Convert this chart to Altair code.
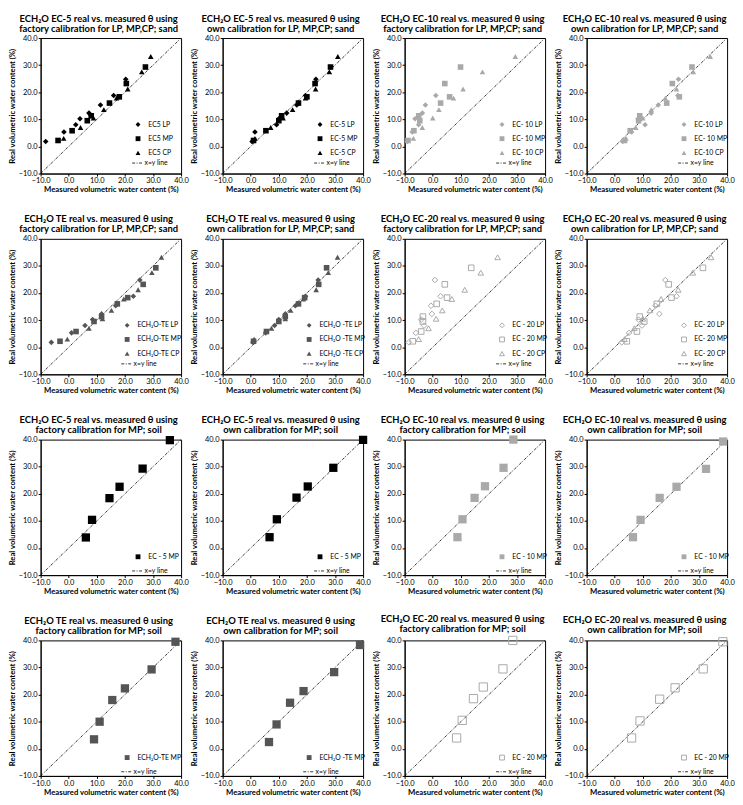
import altair as alt
import pandas as pd

FONT = "Lato"
AX_TICKS = [-10, 0, 10, 20, 30, 40]
LINE_XY = [-10, 40]

# ---- real (reference) water contents, sand ----
SAND_LP_Y = [1.8, 5.3, 8.0, 10.2, 12.3, 15.3, 18.8, 24.8]
SAND_MP_Y = [2.2, 5.8, 9.5, 11.3, 16.0, 18.3, 23.2, 29.3]
SAND_CP_Y = [3.0, 7.0, 10.5, 13.6, 17.8, 21.2, 27.5, 33.2]

# ---- measured water contents, sand ----
EC5_FACT_LP_X = [-8.2, -1.7, 2.5, 4.0, 7.2, 11.3, 16.0, 20.3]
EC5_FACT_MP_X = [-3.8, 1.2, 6.6, 8.0, 14.5, 18.0, 20.5, 27.3]
EC5_FACT_CP_X = [-1.8, 4.2, 8.8, 12.5, 17.0, 21.0, 26.0, 29.2]

EC5_OWN_LP_X = [0.5, 1.5, 9.2, 10.0, 12.8, 16.4, 19.5, 23.2]
EC5_OWN_MP_X = [1.0, 5.4, 10.0, 11.0, 17.0, 20.0, 22.9, 28.4]
EC5_OWN_CP_X = [1.5, 7.1, 11.5, 14.9, 19.5, 23.1, 28.0, 31.0]

EC10_FACT_LP_X = [-9.0, -7.3, -5.0, -6.3, -3.7, -2.6, 1.1, None]
EC10_FACT_MP_X = [-8.8, -6.7, -4.6, -5.0, 2.8, 6.0, 4.3, 9.9]
EC10_FACT_CP_X = [-6.9, -3.7, 0.0, 2.2, 7.4, 10.8, 17.7, 29.4]

EC10_OWN_LP_X = [2.8, 6.0, 10.8, 8.3, 13.0, 15.5, 22.5, 22.7]
EC10_OWN_MP_X = [3.5, 5.5, 8.5, 8.9, 18.5, 23.0, 20.5, 27.5]
EC10_OWN_CP_X = [4.0, 7.5, 10.0, 13.0, 18.0, 22.0, 28.0, 34.0]

TE_FACT_LP_X = [-6.2, 1.0, 5.8, 8.5, 11.7, 16.7, 23.0, 25.3]
TE_FACT_MP_X = [-3.1, 2.6, 9.0, 11.7, 17.3, 21.0, 26.5, 31.0]
TE_FACT_CP_X = [-0.5, 7.2, 12.0, 15.2, 19.6, 24.7, 29.6, 33.0]

TE_OWN_LP_X = [0.8, 5.3, 8.5, 10.0, 12.3, 15.9, 19.5, 24.0]
TE_OWN_MP_X = [1.0, 5.6, 10.0, 12.3, 17.0, 19.2, 24.2, 27.0]
TE_OWN_CP_X = [1.2, 7.4, 12.3, 14.2, 18.7, 23.3, 27.6, 30.9]

EC20_FACT_LP_X = [-8.5, -6.0, -3.1, -4.1, -0.3, -0.6, 2.8, 0.8]
EC20_FACT_MP_X = [-7.1, -4.1, -3.5, -3.5, 1.4, 5.1, 4.3, 13.7]
EC20_FACT_CP_X = [-5.0, -1.5, 1.2, 3.4, 6.8, 11.4, 17.1, 23.1]

EC20_OWN_LP_X = [2.5, 5.1, 9.7, 8.5, 15.9, 14.5, 22.0, 18.0]
EC20_OWN_MP_X = [4.3, 7.9, 10.5, 8.9, 15.0, 20.2, 19.2, 31.4]
EC20_OWN_CP_X = [3.5, 7.0, 10.0, 12.5, 16.5, 22.6, 27.8, 34.3]

# ---- soil, MP only: measured (x) and real (y) ----
EC5_FACT_SOIL_X = [6.1, 8.3, 14.5, 18.1, 26.3, 36.0]
EC5_FACT_SOIL_Y = [3.9, 10.4, 18.4, 22.6, 29.3, 39.8]
EC5_OWN_SOIL_X = [6.7, 9.3, 16.3, 20.3, 29.4, 40.0]
EC5_OWN_SOIL_Y = [4.0, 10.6, 18.6, 22.7, 29.6, 39.9]
EC10_FACT_SOIL_X = [8.8, 10.6, 14.9, 18.6, 25.2, 28.7]
EC10_FACT_SOIL_Y = [4.0, 10.6, 18.5, 22.8, 29.6, 40.0]
EC10_OWN_SOIL_X = [6.5, 9.2, 16.0, 22.0, 32.5, 38.6]
EC10_OWN_SOIL_Y = [4.0, 10.4, 18.5, 22.6, 29.2, 39.3]
TE_FACT_SOIL_X = [9.0, 11.0, 15.5, 20.0, 29.5, 38.0]
TE_FACT_SOIL_Y = [3.5, 10.0, 18.0, 22.3, 29.3, 39.5]
TE_OWN_SOIL_X = [6.5, 9.2, 14.0, 18.8, 29.7, 38.9]
TE_OWN_SOIL_Y = [2.5, 9.0, 17.0, 21.3, 28.3, 38.3]
EC20_FACT_SOIL_X = [8.5, 10.5, 14.5, 18.0, 25.0, 28.5]
EC20_FACT_SOIL_Y = [4.0, 10.5, 18.5, 22.8, 29.5, 40.0]
EC20_OWN_SOIL_X = [6.0, 9.0, 16.0, 21.5, 31.5, 38.5]
EC20_OWN_SOIL_Y = [4.0, 10.3, 18.3, 22.5, 29.5, 39.5]

# ---- titles and legend labels ----
T_EC5 = "ECH\u2082O EC-5 real vs. measured \u03b8 using"
T_EC10 = "ECH\u2082O EC-10 real vs. measured \u03b8 using"
T_TE = "ECH\u2082O TE real vs. measured \u03b8 using"
T_EC20 = "ECH\u2082O EC-20 real vs. measured \u03b8 using"
T_FS = "factory calibration for LP, MP,CP; sand"
T_OS = "own calibration for LP, MP,CP; sand"
T_FM = "factory calibration for MP; soil"
T_OM = "own calibration for MP; soil"

BLACK = "#000000"
DARK = "#555555"
LIGHT = "#a9a9a9"

SAND_Y = [SAND_LP_Y, SAND_MP_Y, SAND_CP_Y]

PANELS = [
    dict(title=[T_EC5, T_FS], labels=["EC5 LP", "EC5 MP", "EC5 CP"],
         xs=[EC5_FACT_LP_X, EC5_FACT_MP_X, EC5_FACT_CP_X], ys=SAND_Y, color=BLACK, filled=True),
    dict(title=[T_EC5, T_OS], labels=["EC-5 LP", "EC-5 MP", "EC-5 CP"],
         xs=[EC5_OWN_LP_X, EC5_OWN_MP_X, EC5_OWN_CP_X], ys=SAND_Y, color=BLACK, filled=True),
    dict(title=[T_EC10, T_FS], labels=["EC- 10 LP", "EC- 10 MP", "EC- 10 CP"],
         xs=[EC10_FACT_LP_X, EC10_FACT_MP_X, EC10_FACT_CP_X], ys=SAND_Y, color=LIGHT, filled=True),
    dict(title=[T_EC10, T_OS], labels=["EC-10 LP", "EC- 10 MP", "EC-10 CP"],
         xs=[EC10_OWN_LP_X, EC10_OWN_MP_X, EC10_OWN_CP_X], ys=SAND_Y, color=LIGHT, filled=True),
    dict(title=[T_TE, T_FS], labels=["ECH\u2082O-TE LP", "ECH\u2082O-TE MP", "ECH\u2082O-TE CP"],
         xs=[TE_FACT_LP_X, TE_FACT_MP_X, TE_FACT_CP_X], ys=SAND_Y, color=DARK, filled=True),
    dict(title=[T_TE, T_OS], labels=["ECH\u2082O -TE LP", "ECH\u2082O -TE MP", "ECH\u2082O -TE CP"],
         xs=[TE_OWN_LP_X, TE_OWN_MP_X, TE_OWN_CP_X], ys=SAND_Y, color=DARK, filled=True),
    dict(title=[T_EC20, T_FS], labels=["EC - 20 LP", "EC - 20 MP", "EC - 20 CP"],
         xs=[EC20_FACT_LP_X, EC20_FACT_MP_X, EC20_FACT_CP_X], ys=SAND_Y, color=LIGHT, filled=False),
    dict(title=[T_EC20, T_OS], labels=["EC- 20 LP", "EC- 20 MP", "EC- 20 CP"],
         xs=[EC20_OWN_LP_X, EC20_OWN_MP_X, EC20_OWN_CP_X], ys=SAND_Y, color=LIGHT, filled=False),
    dict(title=[T_EC5, T_FM], labels=["EC - 5  MP"], xs=[EC5_FACT_SOIL_X], ys=[EC5_FACT_SOIL_Y],
         color=BLACK, filled=True),
    dict(title=[T_EC5, T_OM], labels=["EC - 5  MP"], xs=[EC5_OWN_SOIL_X], ys=[EC5_OWN_SOIL_Y],
         color=BLACK, filled=True),
    dict(title=[T_EC10, T_FM], labels=["EC - 10 MP"], xs=[EC10_FACT_SOIL_X], ys=[EC10_FACT_SOIL_Y],
         color=LIGHT, filled=True),
    dict(title=[T_EC10, T_OM], labels=["EC - 10 MP"], xs=[EC10_OWN_SOIL_X], ys=[EC10_OWN_SOIL_Y],
         color=LIGHT, filled=True),
    dict(title=[T_TE, T_FM], labels=["ECH\u2082O-TE MP"], xs=[TE_FACT_SOIL_X], ys=[TE_FACT_SOIL_Y],
         color=DARK, filled=True),
    dict(title=[T_TE, T_OM], labels=["ECH\u2082O -TE MP"], xs=[TE_OWN_SOIL_X], ys=[TE_OWN_SOIL_Y],
         color=DARK, filled=True),
    dict(title=[T_EC20, T_FM], labels=["EC - 20 MP"], xs=[EC20_FACT_SOIL_X], ys=[EC20_FACT_SOIL_Y],
         color=LIGHT, filled=False),
    dict(title=[T_EC20, T_OM], labels=["EC - 20 MP"], xs=[EC20_OWN_SOIL_X], ys=[EC20_OWN_SOIL_Y],
         color=LIGHT, filled=False),
]

W, H = 142, 137
X_TITLE = "Measured volumetric water content (%)"
Y_TITLE = "Real volumetric water content (%)"


def make_panel(spec):
    rows = []
    for lab, xs, ys in zip(spec["labels"], spec["xs"], spec["ys"]):
        for x, y in zip(xs, ys):
            if x is None:
                continue
            rows.append({"series": lab, "x": x, "y": y})
    df = pd.DataFrame(rows)
    sand = len(spec["labels"]) == 3
    shapes = ["diamond", "square", "triangle-up"] if sand else ["square"]
    size = 32 if sand else 70
    long_lab = "ECH" in spec["labels"][0]
    lx = 84 if long_lab else 95

    sc = alt.Scale(domain=[-10, 40], nice=False, zero=False)
    xenc = alt.X("x:Q", scale=sc, title=X_TITLE,
                 axis=alt.Axis(values=AX_TICKS, format=".1f", labelFlush=False))
    yenc = alt.Y("y:Q", scale=sc, title=Y_TITLE,
                 axis=alt.Axis(values=AX_TICKS, format=".1f", labelFlush=False))

    leg_y = 84 if sand else 115
    n = len(spec["labels"])
    pts = alt.Chart(df).mark_point(
        filled=spec["filled"], color=spec["color"], size=size, opacity=1, strokeWidth=1
    ).encode(
        x=xenc, y=yenc,
        shape=alt.Shape("series:N", scale=alt.Scale(domain=spec["labels"], range=shapes),
                        legend=alt.Legend(title=None, orient="none", legendX=lx, legendY=leg_y,
                                          symbolSize=24, labelOffset=7,
                                          symbolFillColor=spec["color"] if spec["filled"] else "white",
                                          symbolStrokeColor=spec["color"])),
    )
    diag = pd.DataFrame({"x": LINE_XY, "y": LINE_XY, "k": ["x=y line"] * len(LINE_XY)})
    line = alt.Chart(diag).mark_line(color="black", strokeWidth=0.8).encode(
        x=xenc, y=yenc,
        strokeDash=alt.StrokeDash("k:N", scale=alt.Scale(domain=["x=y line"], range=[[3, 1.5, 1, 1.5]]),
                                  legend=alt.Legend(title=None, orient="none", legendX=lx - 3,
                                                    legendY=leg_y + 12.3 * n, symbolSize=100,
                                                    labelOffset=2, symbolStrokeWidth=0.8,
                                                    symbolStrokeColor="black")),
    )
    return alt.layer(line, pts).properties(
        width=W, height=H,
        title=alt.TitleParams(text=spec["title"], fontSize=9.5, font=FONT, fontWeight="bold",
                              anchor="middle", frame="bounds", offset=1, lineHeight=10.2),
    )


RES = dict(shape="independent", strokeDash="independent", x="independent", y="independent")
panels = [make_panel(p) for p in PANELS]
chart = alt.concat(*panels, columns=4, spacing={"row": 66, "column": 42}, bounds="flush").resolve_scale(
    **RES
).properties(
    padding={"left": 0, "top": 0, "right": 0, "bottom": 0}
).configure_view(stroke="black", strokeWidth=1).configure_axis(
    grid=False, domainColor="black", domainWidth=1, tickColor="black", tickSize=2.5,
    labelFont=FONT, labelFontSize=7.5, labelColor="black", labelPadding=1,
    titleFont=FONT, titleFontSize=7.8, titleFontWeight="bold", titleColor="black", titlePadding=1.5,
).configure_legend(
    labelFont=FONT, labelFontSize=6.9, labelColor="black", padding=0, rowPadding=5.3,
    symbolStrokeWidth=1,
)

chart.save("out.html", embed_options={"renderer": "svg", "actions": False})
